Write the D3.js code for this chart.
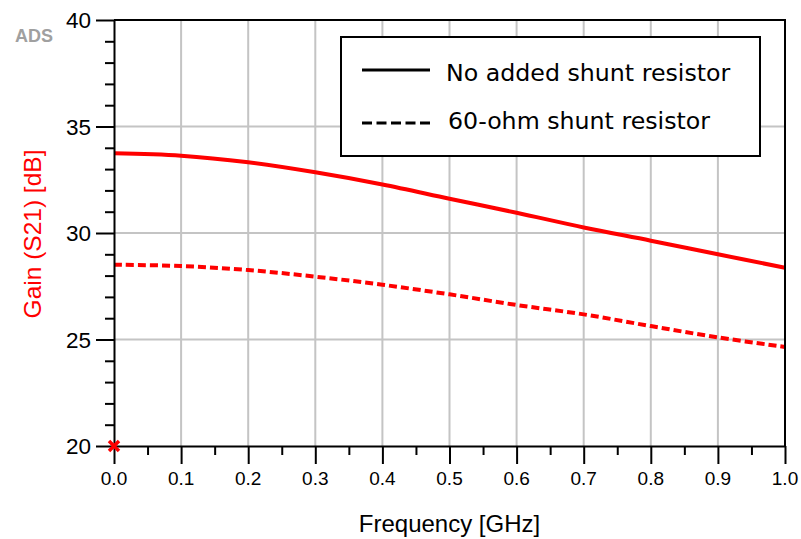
<!DOCTYPE html>
<html lang="en">
<head>
    <meta charset="UTF-8">
    <title>Gain vs Frequency</title>
    <script src="https://d3js.org/d3.v7.min.js"></script>
    <style>
        body { margin: 0; background: #fff; }
        svg { display: block; }
        .tick-label { font-family: "Liberation Sans", Arial, sans-serif; fill: #000; }
        .legend-text { font-family: "DejaVu Sans", sans-serif; font-size: 23.7px; fill: #000; }
    </style>
</head>
<body>
    <svg id="chart" width="801" height="539"></svg>
    <script>
        // data
        const freq = [0.0, 0.1, 0.2, 0.3, 0.4, 0.5, 0.6, 0.7, 0.8, 0.9, 1.0];
        const gainNoShunt = [33.74, 33.63, 33.32, 32.85, 32.28, 31.61, 30.95, 30.26, 29.64, 29.00, 28.37];
        const gain60ohm = [28.51, 28.45, 28.26, 27.95, 27.57, 27.12, 26.62, 26.18, 25.63, 25.10, 24.65];
        const xTicks = [0.0, 0.1, 0.2, 0.3, 0.4, 0.5, 0.6, 0.7, 0.8, 0.9, 1.0];
        const yTicks = [20, 25, 30, 35, 40];
        const legendLabels = ["No added shunt resistor", "60-ohm shunt resistor"];

        const svg = d3.select("#chart");
        const plotLeft = 114, plotRight = 785, plotTop = 20, plotBottom = 446;

        const x = d3.scaleLinear().domain([0, 1]).range([plotLeft, plotRight]);
        const y = d3.scaleLinear().domain([20, 40]).range([plotBottom, plotTop]);

        // gridlines
        svg.append("g").selectAll("line")
            .data(xTicks.slice(1, -1))
            .enter().append("line")
            .attr("x1", d => x(d)).attr("x2", d => x(d))
            .attr("y1", plotTop).attr("y2", plotBottom)
            .attr("stroke", "#c4c4c4").attr("stroke-width", 2);
        svg.append("g").selectAll("line")
            .data(yTicks.slice(1, -1))
            .enter().append("line")
            .attr("x1", plotLeft).attr("x2", plotRight)
            .attr("y1", d => y(d)).attr("y2", d => y(d))
            .attr("stroke", "#c4c4c4").attr("stroke-width", 2);

        // curves
        const line = d3.line()
            .x(d => x(d[0]))
            .y(d => y(d[1]))
            .curve(d3.curveCatmullRom.alpha(0.5));

        svg.append("path")
            .datum(d3.zip(freq, gainNoShunt))
            .attr("d", line)
            .attr("fill", "none")
            .attr("stroke", "#ff0000")
            .attr("stroke-width", 4);

        svg.append("path")
            .datum(d3.zip(freq, gain60ohm))
            .attr("d", line)
            .attr("fill", "none")
            .attr("stroke", "#ff0000")
            .attr("stroke-width", 4)
            .attr("stroke-dasharray", "8,4");

        // frame (top and right)
        svg.append("path")
            .attr("d", `M${plotLeft},${plotTop}H${plotRight}V${plotBottom}`)
            .attr("fill", "none")
            .attr("stroke", "#000")
            .attr("stroke-width", 2);

        // axes
        const xAxis = d3.axisBottom(x)
            .tickValues(d3.range(0, 1.0001, 0.05))
            .tickSize(0)
            .tickFormat("");
        const gx = svg.append("g")
            .attr("transform", `translate(0,${plotBottom})`)
            .call(xAxis);
        gx.select(".domain").attr("stroke-width", 2);
        gx.selectAll(".tick line")
            .attr("y2", (d, i) => i % 2 === 0 ? 18 : 9)
            .attr("stroke-width", 2);

        const yAxis = d3.axisLeft(y)
            .tickValues(d3.range(20, 40.001, 1))
            .tickSize(0)
            .tickFormat("");
        const gy = svg.append("g")
            .attr("transform", `translate(${plotLeft},0)`)
            .call(yAxis);
        gy.select(".domain").attr("stroke-width", 2);
        gy.selectAll(".tick line")
            .attr("x2", (d, i) => i % 5 === 0 ? -18 : -9)
            .attr("stroke-width", 2);

        // tick labels
        svg.append("g").selectAll("text")
            .data(xTicks)
            .enter().append("text")
            .attr("class", "tick-label")
            .attr("x", d => x(d))
            .attr("y", 485)
            .attr("text-anchor", "middle")
            .style("font-size", "19px")
            .text(d => d.toFixed(1));

        svg.append("g").selectAll("text")
            .data(yTicks)
            .enter().append("text")
            .attr("class", "tick-label")
            .attr("x", 91)
            .attr("y", d => y(d) + 8)
            .attr("text-anchor", "end")
            .style("font-size", "22.5px")
            .text(d => d);

        // axis titles
        svg.append("text")
            .attr("class", "tick-label")
            .attr("x", (plotLeft + plotRight) / 2)
            .attr("y", 532)
            .attr("text-anchor", "middle")
            .style("font-size", "24px")
            .text("Frequency [GHz]");

        svg.append("text")
            .attr("transform", "translate(41,234) rotate(-90)")
            .attr("text-anchor", "middle")
            .style("font-family", "'Liberation Sans', Arial, sans-serif")
            .style("font-size", "24.5px")
            .style("fill", "#ff0000")
            .text("Gain (S21) [dB]");

        // ADS tag
        svg.append("text")
            .attr("x", 15)
            .attr("y", 42)
            .style("font-family", "'Liberation Sans', Arial, sans-serif")
            .style("font-size", "18px")
            .style("font-weight", "bold")
            .style("fill", "#a0a0a0")
            .text("ADS");

        // marker at origin
        svg.append("path")
            .attr("transform", `translate(${x(0)},${y(20)})`)
            .attr("d", "M-5,-5L5,5M-5,5L5,-5")
            .attr("stroke", "#ff0000")
            .attr("stroke-width", 3.5);

        // legend
        const legend = svg.append("g");
        legend.append("rect")
            .attr("x", 341).attr("y", 37)
            .attr("width", 419).attr("height", 119)
            .attr("fill", "#fff")
            .attr("stroke", "#000")
            .attr("stroke-width", 2);

        legend.selectAll(".legend-line")
            .data(legendLabels)
            .enter().append("line")
            .attr("class", "legend-line")
            .attr("x1", 362).attr("x2", 430)
            .attr("y1", (d, i) => 70 + i * 53)
            .attr("y2", (d, i) => 70 + i * 53)
            .attr("stroke", "#000")
            .attr("stroke-width", 3)
            .attr("stroke-dasharray", (d, i) => i === 0 ? null : "10,4.5");

        legend.selectAll(".legend-text")
            .data(legendLabels)
            .enter().append("text")
            .attr("class", "legend-text")
            .attr("x", (d, i) => i === 0 ? 446 : 448)
            .attr("y", (d, i) => 81 + i * 48)
            .text(d => d);
    </script>
</body>
</html>
